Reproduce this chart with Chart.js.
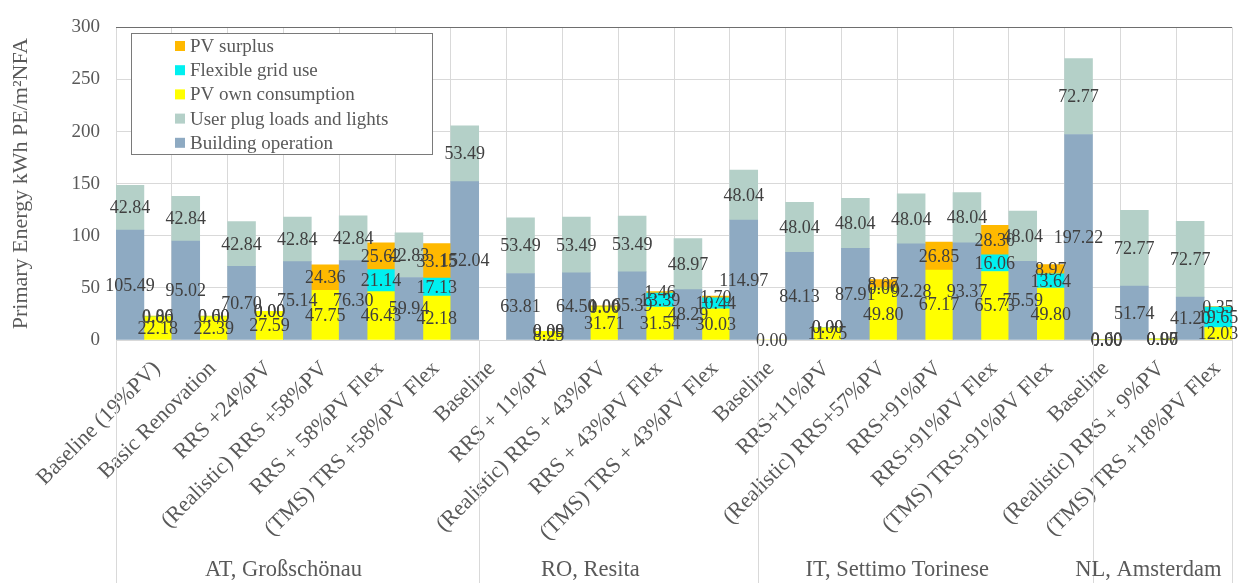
<!DOCTYPE html>
<html>
<head>
<meta charset="utf-8">
<script src="https://cdn.jsdelivr.net/npm/chart.js@4.4.1/dist/chart.umd.min.js"></script>
<style>
  html, body { margin: 0; padding: 0; background: #ffffff; }
  #wrap { width: 1243px; height: 583px; position: relative; }
</style>
</head>
<body>
<div id="wrap"><canvas id="c" width="1243" height="583"></canvas></div>
<script>
// Scenario labels (x axis) and site groups
const scenarios = [
  'Baseline (19%PV)', 'Basic Renovation', 'RRS +24%PV', '(Realistic) RRS +58%PV', 'RRS + 58%PV Flex', '(TMS) TRS +58%PV Flex',
  'Baseline', 'RRS + 11%PV', '(Realistic) RRS + 43%PV', 'RRS + 43%PV Flex', '(TMS) TRS + 43%PV Flex',
  'Baseline', 'RRS+11%PV', '(Realistic) RRS+57%PV', 'RRS+91%PV', 'RRS+91%PV Flex', '(TMS) TRS+91%PV Flex',
  'Baseline', '(Realistic) RRS + 9%PV', '(TMS) TRS +18%PV Flex'
];
const groupNames = ['AT, Großschönau', 'RO, Resita', 'IT, Settimo Torinese', 'NL, Amsterdam'];
const groupSizes = [6, 5, 6, 3];

// Demand side (kWh PE/m²NFA)
const buildingOperation = [105.49, 95.02, 70.70, 75.14, 76.30, 59.94, 152.04, 63.81, 64.50, 65.39, 48.29, 114.97, 84.13, 87.91, 92.28, 93.37, 75.59, 197.22, 51.74, 41.20];
const userPlugLoads     = [42.84, 42.84, 42.84, 42.84, 42.84, 42.83, 53.49, 53.49, 53.49, 53.49, 48.97, 48.04, 48.04, 48.04, 48.04, 48.04, 48.04, 72.77, 72.77, 72.77];

// Supply side (kWh PE/m²NFA)
const pvOwnConsumption  = [22.18, 22.39, 27.59, 47.75, 46.43, 42.18, null, 8.25, 31.71, 31.54, 30.03, 0.00, 11.75, 49.80, 67.17, 65.73, 49.80, 0.00, 0.97, 12.03];
const flexibleGridUse   = [0.00, 0.00, 0.00, null, 21.14, 17.13, null, 0.00, 0.00, 13.39, 10.44, null, 0.00, 0.00, null, 16.06, 13.64, 0.00, 0.00, 19.65];
const pvSurplus         = [0.86, 0.60, 0.00, 24.36, 25.62, 33.15, null, 0.09, 1.00, 1.46, 1.70, null, 0.00, 8.07, 26.85, 28.30, 8.97, 0.60, 0.06, 0.35];

const yTicks = [0, 50, 100, 150, 200, 250, 300];

const SERIF = '"Liberation Serif", "Times New Roman", serif';
const GREY_TEXT = '#595959';
const LABEL_TEXT = '#404040';
const GRID = '#d9d9d9';

const COLORS = {
  building: '#8eaac2',
  plug: '#b4d0c8',
  own: '#ffff00',
  flex: '#00f0f0',
  surplus: '#ffb900'
};

const datasets = [
  { label: 'Building operation', data: buildingOperation, backgroundColor: COLORS.building, stack: 'demand' },
  { label: 'User plug loads and lights', data: userPlugLoads, backgroundColor: COLORS.plug, stack: 'demand' },
  { label: 'PV own consumption', data: pvOwnConsumption, backgroundColor: COLORS.own, stack: 'supply' },
  { label: 'Flexible grid use', data: flexibleGridUse, backgroundColor: COLORS.flex, stack: 'supply' },
  { label: 'PV surplus', data: pvSurplus, backgroundColor: COLORS.surplus, stack: 'supply' }
].map(d => Object.assign(d, { barPercentage: 1, categoryPercentage: 1, borderWidth: 0 }));

// Value labels centred on each bar segment
const valueLabels = {
  id: 'valueLabels',
  afterDatasetsDraw(chart) {
    const ctx = chart.ctx;
    ctx.save();
    ctx.font = '18px ' + SERIF;
    ctx.fillStyle = LABEL_TEXT;
    ctx.textAlign = 'center';
    ctx.textBaseline = 'middle';
    chart.data.datasets.forEach((ds, di) => {
      const meta = chart.getDatasetMeta(di);
      meta.data.forEach((el, i) => {
        const v = ds.data[i];
        if (v === null || v === undefined) return;
        const y = (el.y + el.base) / 2;
        ctx.fillText(v.toFixed(2), el.x, y + 1);
      });
    });
    ctx.restore();
  }
};

// Legend box inside the plot area, plus site group labels and separators under the axis
const decorations = {
  id: 'decorations',
  afterDraw(chart) {
    const ctx = chart.ctx;
    const xs = chart.scales.x;
    const area = chart.chartArea;
    ctx.save();

    // group separators
    ctx.strokeStyle = GRID;
    ctx.lineWidth = 1;
    const sepX = [area.left];
    let start = 0;
    groupSizes.forEach((n, gi) => {
      if (gi > 0) sepX.push(xs.getPixelForValue(start));
      start += n;
    });
    sepX.push(area.right);
    sepX.forEach(x => {
      const px = Math.round(x) + 0.5;
      ctx.beginPath();
      ctx.moveTo(px, area.bottom);
      ctx.lineTo(px, chart.height);
      ctx.stroke();
    });

    // group names centred under their scenarios
    ctx.font = '22.5px ' + SERIF;
    ctx.fillStyle = GREY_TEXT;
    ctx.textAlign = 'center';
    ctx.textBaseline = 'middle';
    start = 0;
    groupSizes.forEach((n, gi) => {
      const half = (xs.getPixelForValue(1) - xs.getPixelForValue(0)) / 2;
      const x0 = xs.getPixelForValue(start) - half;
      const x1 = xs.getPixelForValue(start + n - 1) + half;
      ctx.fillText(groupNames[gi], (x0 + x1) / 2, 570);
      start += n;
    });

    // legend
    const lx = area.left + 15, ly = 33, lw = 301, lh = 121;
    ctx.fillStyle = '#ffffff';
    ctx.fillRect(lx, ly, lw, lh);
    ctx.strokeStyle = '#7a7a7a';
    ctx.strokeRect(lx + 0.5, ly + 0.5, lw, lh);
    const order = [4, 3, 2, 1, 0];
    ctx.font = '19px ' + SERIF;
    ctx.textAlign = 'left';
    order.forEach((di, k) => {
      const ds = chart.data.datasets[di];
      const cy = ly + 13 + k * 24.2;
      ctx.fillStyle = ds.backgroundColor;
      ctx.fillRect(lx + 44, cy - 5, 10, 10);
      ctx.fillStyle = GREY_TEXT;
      ctx.fillText(ds.label, lx + 59, cy + 1);
    });
    ctx.restore();
  }
};

new Chart(document.getElementById('c'), {
  type: 'bar',
  data: { labels: scenarios, datasets },
  options: {
    responsive: false,
    animation: false,
    layout: { padding: { left: 0, right: 11, top: 19, bottom: 0 } },
    plugins: { legend: { display: false }, tooltip: { enabled: false } },
    scales: {
      x: {
        stacked: true,
        grid: {
          offset: true,
          drawTicks: false,
          color: c => (c.index === scenarios.length ? '#6e6e6e' : GRID)
        },
        border: { display: false },
        ticks: {
          autoSkip: false,
          minRotation: 45,
          maxRotation: 45,
          padding: 16,
          labelOffset: 13,
          color: GREY_TEXT,
          font: { family: SERIF, size: 22 }
        },
        afterFit: s => { s.height = 243; }
      },
      y: {
        stacked: true,
        min: 0,
        max: 300,
        afterBuildTicks: s => { s.ticks = yTicks.map(v => ({ value: v })); },
        grid: {
          drawTicks: false,
          color: c => (c.tick && c.tick.value === 300 ? '#6e6e6e' : GRID)
        },
        border: { display: false },
        ticks: {
          padding: 16,
          color: GREY_TEXT,
          font: { family: SERIF, size: 19 }
        },
        title: {
          display: true,
          text: 'Primary Energy kWh PE/m²NFA',
          color: GREY_TEXT,
          font: { family: SERIF, size: 22 },
          padding: { top: 8, bottom: 0 }
        },
        afterFit: s => { s.width = 116; }
      }
    }
  },
  plugins: [valueLabels, decorations]
});
</script>
</body>
</html>
